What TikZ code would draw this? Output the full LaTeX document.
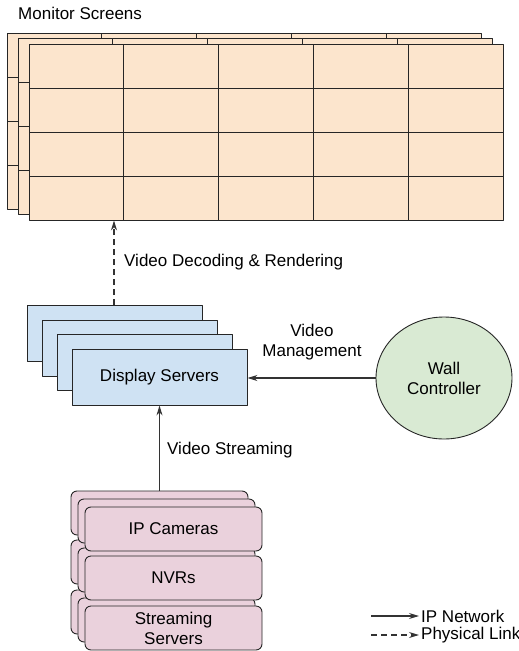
\documentclass[tikz,border=0pt]{standalone}
\usepackage{fontspec}
\setmainfont{Liberation Sans}
\usetikzlibrary{shapes.geometric,arrows.meta,positioning}
\definecolor{peach}{HTML}{FCE5CD}
\definecolor{paleblue}{HTML}{CFE2F3}
\definecolor{palegreen}{HTML}{D9EAD3}
\definecolor{palepink}{HTML}{EAD1DC}
\begin{document}
\begin{tikzpicture}[x=1pt,y=-1pt,>={Stealth[length=10pt,width=6pt]},font=\fontsize{17}{20}\selectfont,line join=round,
	screen/.style={draw=black!85,fill=peach,line width=0.9pt},
	server/.style={draw=black!85,fill=paleblue,line width=0.9pt,minimum width=175pt,minimum height=56pt,inner sep=0pt},
	source/.style={draw=black!85,fill=palepink,line width=0.9pt,rounded corners=6pt,minimum width=177pt,minimum height=44pt,inner sep=0pt,align=center},
	link/.style={draw=black!80,line width=1.1pt,->},
	lbl/.style={anchor=west,inner sep=0pt,align=left}]
	\useasboundingbox (0,0) rectangle (519,651);
	\def\mw{474} \def\mh{176} % wall size
	\def\screengrid{\foreach \i in {1,...,4} \draw[screen] (\i*94.8,0)--(\i*94.8,\mh);
		\foreach \j in {1,2,3} \draw[screen] (0,\j*44)--(\mw,\j*44);}
	% monitor wall
	\node[lbl] (title) at (18,13) {Monitor Screens};
	\foreach \s in {22,11}{
		\begin{scope}[shift={(29-\s,44-\s/2)}]
			\draw[screen] (0,0) rectangle (\mw,\mh);
			\screengrid
		\end{scope}}
	\node[screen,minimum width=\mw pt,minimum height=\mh pt,inner sep=0pt] (mon) at (266,132) {};
	\begin{scope}[shift={(29,44)}]
		\screengrid
	\end{scope}
	% display servers
	\foreach \k in {3,2,1}
	\node[server] (ds\k) at (159.5-15*\k,377-14.5*\k) {};
	\node[server] (ds) at (159.5,377) {Display Servers};
	\coordinate (dec) at (114,0);
	\draw[link,dashed,dash pattern=on 6pt off 4pt] (ds3.north -| dec) -- (mon.south -| dec);
	\node[lbl] (declbl) at (124,262) {Video Decoding \& Rendering};
	% wall controller
	\node[ellipse,draw=black!85,fill=palegreen,line width=0.9pt,minimum width=136pt,minimum height=122pt,align=center] (wc) at (444,378) {Wall\\Controller};
	\draw[link] (wc.west) -- (ds.east |- wc.west);
	\node[align=center,inner sep=0pt] (mgmt) at (312,342) {Video\\Management};
	% sources
	\foreach \n/\y/\t in {stream/628/{Streaming\\Servers},nvr/578/NVRs,cam/529/IP Cameras}{
		\node[source] (\n2) at (173.5-14,\y-16) {};
		\node[source] (\n1) at (173.5-7,\y-8) {};
		\node[source] (\n) at (173.5,\y) {\t};}
	\draw[link] (cam2.north) -- (ds.south);
	\node[lbl] (strlbl) at (167,450) {Video Streaming};
	% legend
	\node[lbl,text depth=0pt] (ipnet) at (421,616) {IP Network};
	\node[lbl] (phys) at (421,635) {Physical Link};
	\coordinate[left=50pt of ipnet.west] (ipA);
	\coordinate[left=50pt of phys.west] (phA);
	\draw[link] (ipA) -- ([xshift=-2pt]ipnet.west);
	\draw[link,dashed,dash pattern=on 6pt off 4pt] (phA) -- ([xshift=-2pt]phys.west);
\end{tikzpicture}
\end{document}
